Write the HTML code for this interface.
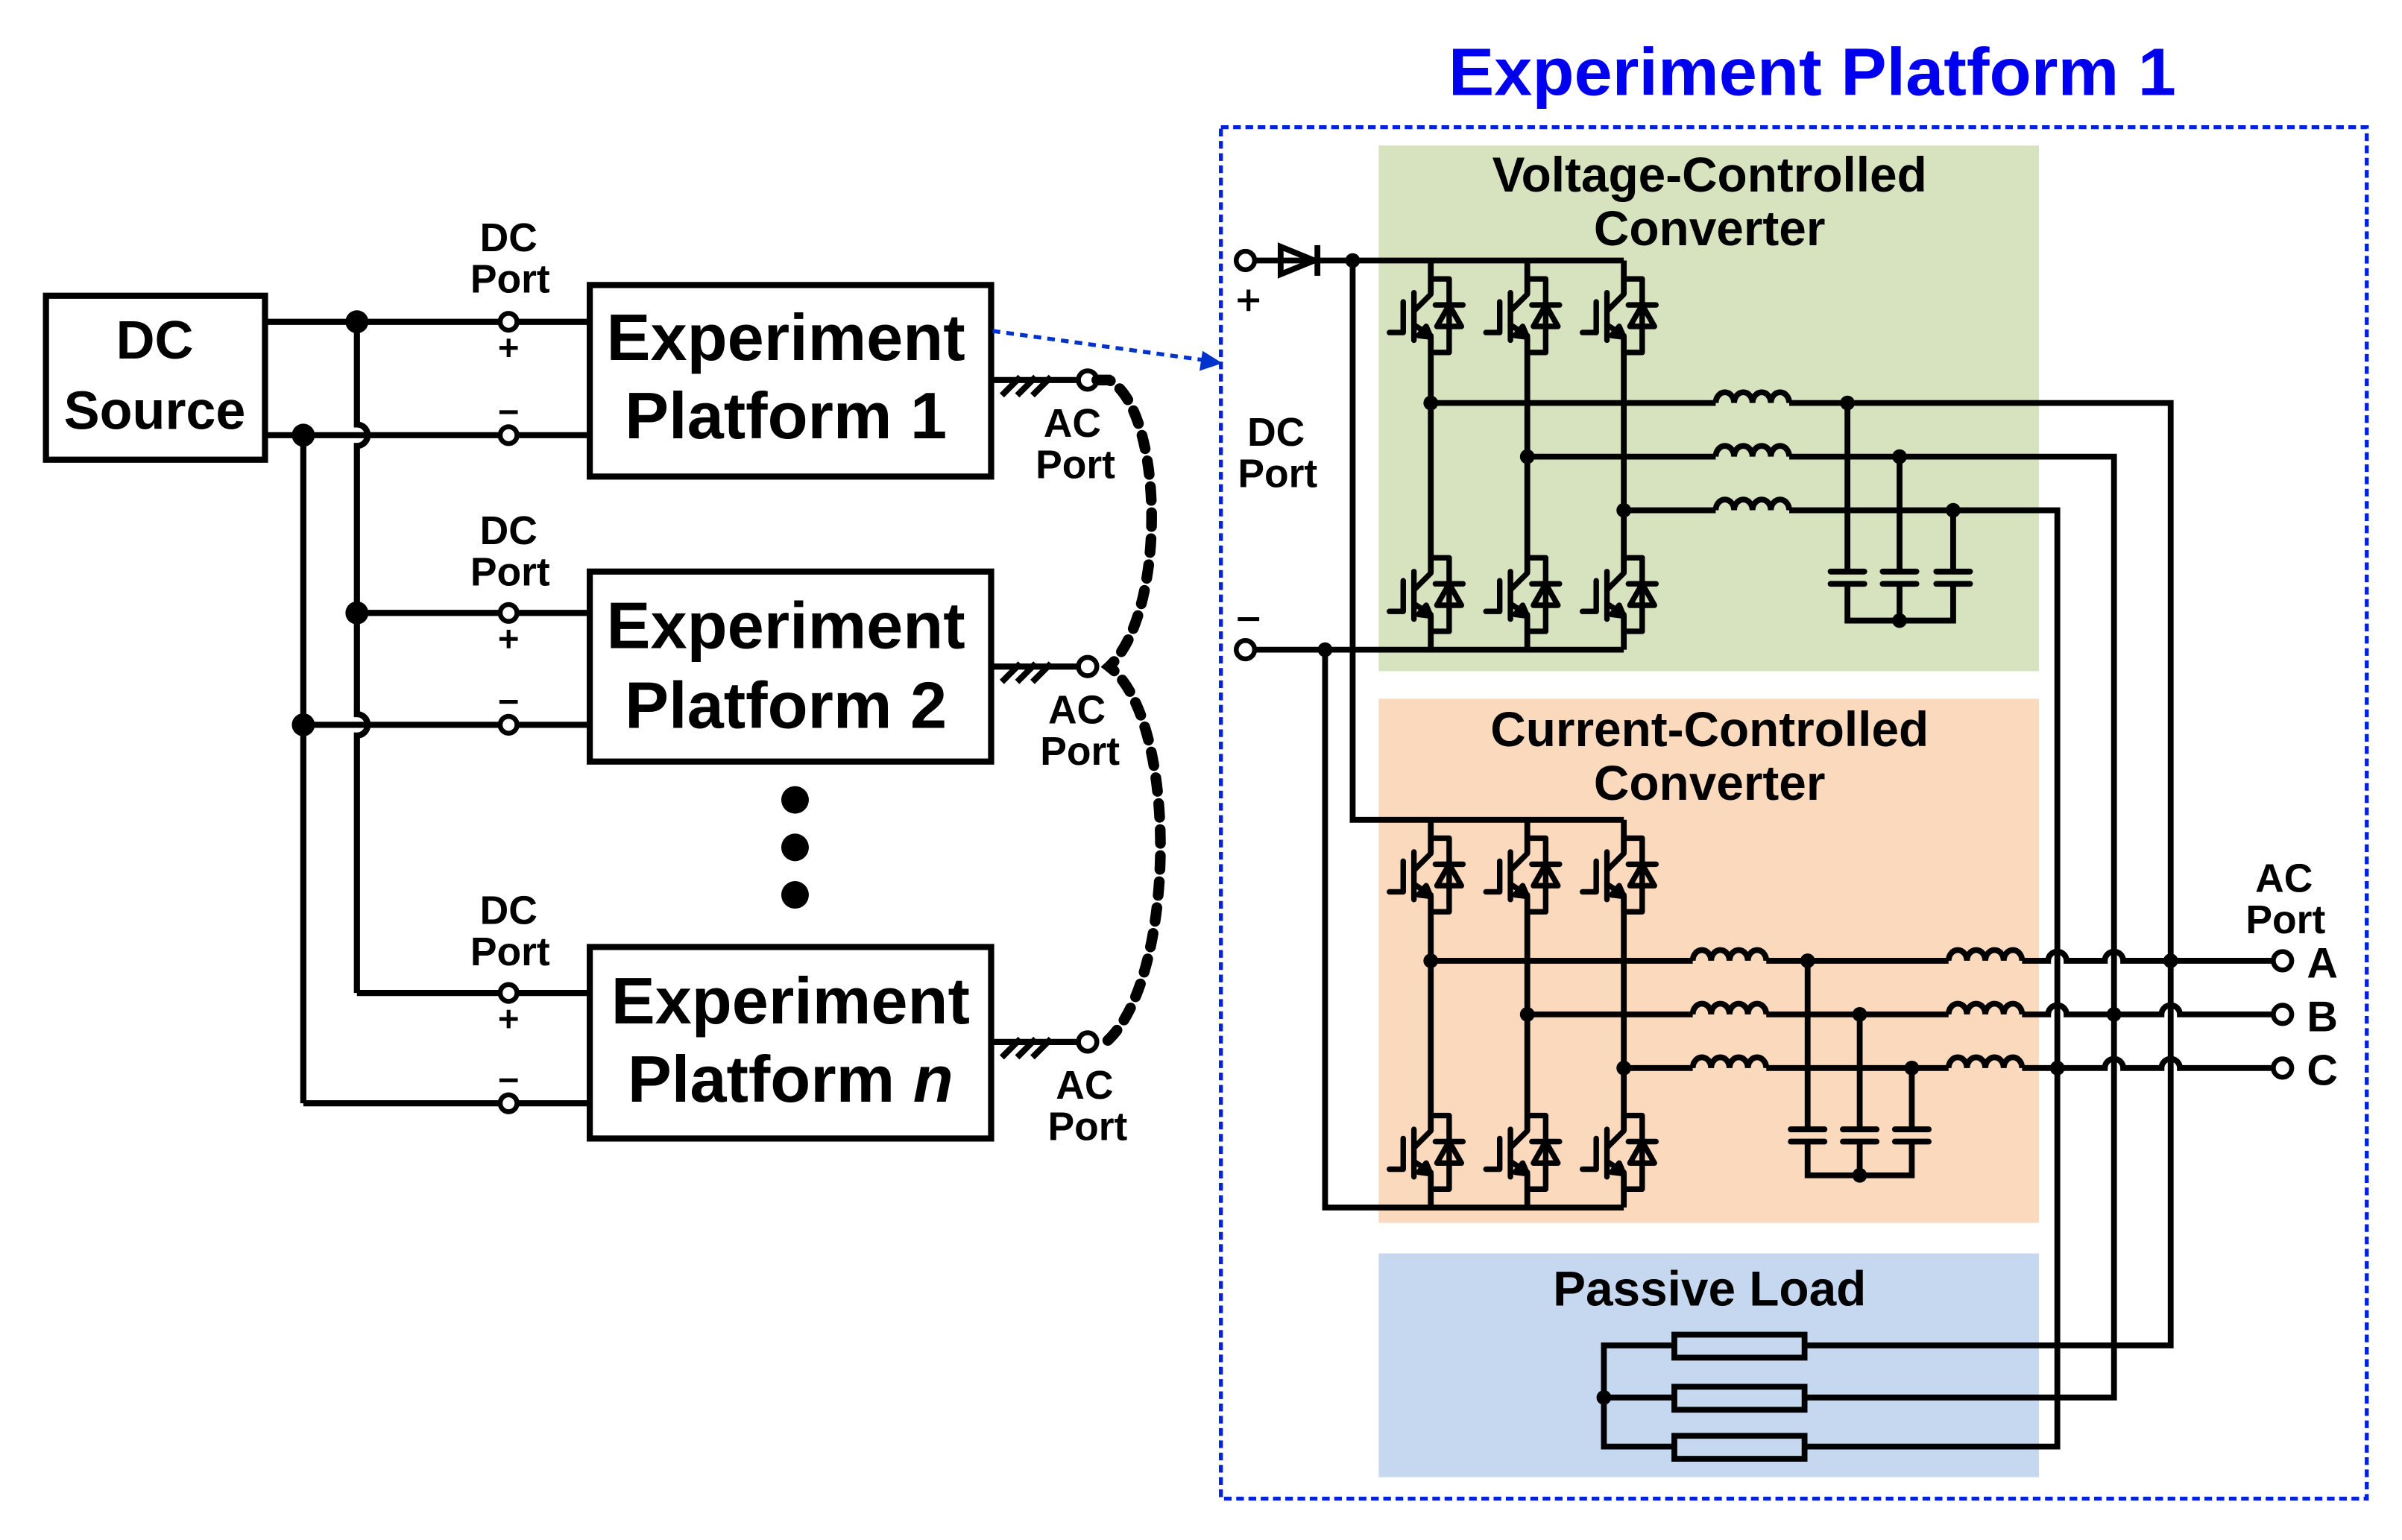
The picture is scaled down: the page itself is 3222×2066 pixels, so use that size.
<!DOCTYPE html>
<html><head><meta charset="utf-8"><style>
html,body{margin:0;padding:0;background:#fff;}
svg{display:block;}
text{font-family:"Liberation Sans",Arial,sans-serif;font-weight:bold;}
</style></head><body>
<svg width="3222" height="2066" viewBox="0 0 1568 1005" preserveAspectRatio="none" xmlns="http://www.w3.org/2000/svg">
<defs>
<g id="sw" fill="none" stroke="#000" stroke-width="3.6" stroke-linecap="round" stroke-linejoin="round">
  <path d="M0,0 H12 V48 H0"/>
  <path d="M3,17 H21"/>
  <path d="M12,17 L4,31 H20 Z"/>
  <path d="M0,0 V10 L-11,21"/>
  <path d="M-11,9 V40"/>
  <path d="M-18,15 V35 H-27"/>
  <path d="M-11,30 L0,37 V48"/>
  <path d="M0,38 L-8,37 L-3,31 Z" fill="#000"/>
</g>
<g id="ind" fill="none" stroke="#000" stroke-width="3.8">
  <path d="M0,0 a6,7 0 0 1 12,0 a6,7 0 0 1 12,0 a6,7 0 0 1 12,0 a6,7 0 0 1 12,0"/>
</g>
<g id="cap" fill="none" stroke="#000" stroke-width="3.8" stroke-linecap="round">
  <path d="M-11,0 H11 M-11,8 H11"/>
</g>
</defs>

<!-- ========== LEFT ========== -->
<g fill="none" stroke="#000" stroke-width="4">
  <rect x="30" y="193" width="143" height="107"/>
  <rect x="385" y="186" width="262" height="125"/>
  <rect x="385" y="373" width="262" height="124"/>
  <rect x="385" y="618" width="262" height="125"/>
  <path d="M173,210 H326 M338,210 H385"/>
  <path d="M173,284 H326 M338,284 H385"/>
  <path d="M233,400 H326 M338,400 H385"/>
  <path d="M198,473 H326 M338,473 H385"/>
  <path d="M233,648 H326 M338,648 H385"/>
  <path d="M198,720 H326 M338,720 H385"/>
  <path d="M233,210 V277 a7,7 0 0 1 0,14 V466 a7,7 0 0 1 0,14 V648"/>
  <path d="M198,284 V720"/>
  <path d="M647,248 H704 M647,435 H704 M647,680 H704"/>
  <path d="M654,258 l12,-12 M664,258 l12,-12 M674,258 l12,-12"/>
  <path d="M654,445 l12,-12 M664,445 l12,-12 M674,445 l12,-12"/>
  <path d="M654,690 l12,-12 M664,690 l12,-12 M674,690 l12,-12"/>
</g>
<g fill="#fff" stroke="#000" stroke-width="3.2">
  <circle cx="332" cy="210" r="5.5"/><circle cx="332" cy="284" r="5.5"/>
  <circle cx="332" cy="400" r="5.5"/><circle cx="332" cy="473" r="5.5"/>
  <circle cx="332" cy="648" r="5.5"/><circle cx="332" cy="720" r="5.5"/>
  <circle cx="710" cy="248" r="6"/><circle cx="710" cy="435" r="6"/><circle cx="710" cy="680" r="6"/>
</g>
<g fill="#000">
  <circle cx="233" cy="210" r="7.5"/><circle cx="198" cy="284" r="7.5"/>
  <circle cx="233" cy="400" r="7.5"/><circle cx="198" cy="473" r="7.5"/>
  <circle cx="519" cy="522" r="9"/><circle cx="519" cy="553" r="9"/><circle cx="519" cy="584" r="9"/>
</g>
<g stroke="#000" stroke-width="2.5">
  <path d="M326,227 H338 M332,221 V233"/><path d="M326,269 H338"/>
  <path d="M326,417 H338 M332,411 V423"/><path d="M326,458 H338"/>
  <path d="M326,665 H338 M332,659 V671"/><path d="M326,705 H338"/>
</g>
<path d="M716,248 H724 C760,268 762,400 724,435 C770,470 768,640 722,680" fill="none" stroke="#000" stroke-width="7" stroke-dasharray="9 8" stroke-linecap="round"/>
<path d="M648,216 L786,235" stroke="#0033cc" stroke-width="2.6" stroke-dasharray="5 4" fill="none"/>
<path d="M798,237 L783,242 L785,229 Z" fill="#0033cc"/>

<g fill="#000">
  <text x="101" y="234" font-size="35" text-anchor="middle">DC</text>
  <text x="101" y="280" font-size="35" text-anchor="middle">Source</text>
  <text x="513" y="235" font-size="43" text-anchor="middle">Experiment</text>
  <text x="513" y="286" font-size="43" text-anchor="middle">Platform 1</text>
  <text x="513" y="423" font-size="43" text-anchor="middle">Experiment</text>
  <text x="513" y="475" font-size="43" text-anchor="middle">Platform 2</text>
  <text x="516" y="668" font-size="43" text-anchor="middle">Experiment</text>
  <text x="516" y="719" font-size="43" text-anchor="middle">Platform <tspan font-style="italic">n</tspan></text>
  <g font-size="26" text-anchor="middle">
    <text x="332" y="164">DC</text><text x="333" y="191">Port</text>
    <text x="332" y="355">DC</text><text x="333" y="382">Port</text>
    <text x="332" y="603">DC</text><text x="333" y="630">Port</text>
    <text x="700" y="285">AC</text><text x="702" y="312">Port</text>
    <text x="703" y="472">AC</text><text x="705" y="499">Port</text>
    <text x="708" y="717">AC</text><text x="710" y="744">Port</text>
  </g>
</g>

<!-- ========== RIGHT ========== -->
<text x="1183" y="62" font-size="44" fill="#0000ee" text-anchor="middle" textLength="475" lengthAdjust="spacingAndGlyphs">Experiment Platform 1</text>
<rect x="797" y="83" width="748" height="895" fill="none" stroke="#0022dd" stroke-width="2.6" stroke-dasharray="5 3"/>
<rect x="900" y="95" width="431" height="343" fill="#d7e3bf"/>
<rect x="900" y="456" width="431" height="342" fill="#fad9bd"/>
<rect x="900" y="818" width="431" height="146" fill="#c6d8ef"/>
<g fill="#000" font-size="32" text-anchor="middle">
  <text x="1116" y="125">Voltage-Controlled</text>
  <text x="1116" y="160">Converter</text>
  <text x="1116" y="487">Current-Controlled</text>
  <text x="1116" y="522">Converter</text>
  <text x="1116" y="852">Passive Load</text>
  <text x="833" y="291" font-size="26">DC</text>
  <text x="834" y="318" font-size="26">Port</text>
  <text x="1491" y="582" font-size="26">AC</text>
  <text x="1492" y="609" font-size="26">Port</text>
  <text x="1516" y="638" font-size="28">A</text>
  <text x="1516" y="673" font-size="28">B</text>
  <text x="1516" y="708" font-size="28">C</text>
</g>
<g stroke="#000" stroke-width="2.5">
  <path d="M808,196 H822 M815,189 V203"/>
  <path d="M808,404 H822"/>
</g>

<g fill="none" stroke="#000" stroke-width="3.8">
  <path d="M818,170 H1060"/>
  <path d="M818,424 H1060"/>
  <path d="M883,170 V535 H1060"/>
  <path d="M865,424 V788 H1060"/>
  <path d="M934,170 V192 M934,220 V374 M934,402 V424"/>
  <path d="M997,170 V192 M997,220 V374 M997,402 V424"/>
  <path d="M1060,170 V192 M1060,220 V374 M1060,402 V424"/>
  <path d="M934,535 V557 M934,585 V738 M934,766 V788"/>
  <path d="M997,535 V557 M997,585 V738 M997,766 V788"/>
  <path d="M1060,535 V557 M1060,585 V738 M1060,766 V788"/>
  <path d="M934,263 H1120 M1168,263 H1417 V878 H1178"/>
  <path d="M997,298 H1120 M1168,298 H1380 V912 H1178"/>
  <path d="M1060,333 H1120 M1168,333 H1343 V944 H1178"/>
  <path d="M1206,263 V373 M1240,298 V373 M1275,333 V373"/>
  <path d="M1206,381 V405 H1275 V381 M1240,381 V405"/>
  <path d="M934,627 H1105 M1153,627 H1272 M1320,627 H1337 a6,6 0 0 1 12,0 H1374 a6,6 0 0 1 12,0 H1484"/>
  <path d="M997,662 H1105 M1153,662 H1272 M1320,662 H1337 a6,6 0 0 1 12,0 H1411 a6,6 0 0 1 12,0 H1484"/>
  <path d="M1060,697 H1105 M1153,697 H1272 M1320,697 H1374 a6,6 0 0 1 12,0 H1411 a6,6 0 0 1 12,0 H1484"/>
  <path d="M1180,627 V737 M1214,662 V737 M1248,697 V737"/>
  <path d="M1180,745 V767 H1248 V745 M1214,745 V767"/>
  <rect x="1093" y="871" width="85" height="15"/>
  <rect x="1093" y="905" width="85" height="15"/>
  <rect x="1093" y="937" width="85" height="15"/>
  <path d="M1093,878 H1047 V944 H1093 M1047,912 H1093"/>
  <path d="M836,161 L858,170 L836,179 Z"/>
  <path d="M860,160 V180"/>
</g>

<use href="#ind" x="1120" y="263"/><use href="#ind" x="1120" y="298"/><use href="#ind" x="1120" y="333"/>
<use href="#ind" x="1105" y="627"/><use href="#ind" x="1105" y="662"/><use href="#ind" x="1105" y="697"/>
<use href="#ind" x="1272" y="627"/><use href="#ind" x="1272" y="662"/><use href="#ind" x="1272" y="697"/>
<use href="#cap" x="1206" y="373"/><use href="#cap" x="1240" y="373"/><use href="#cap" x="1275" y="373"/>
<use href="#cap" x="1180" y="737"/><use href="#cap" x="1214" y="737"/><use href="#cap" x="1248" y="737"/>

<use href="#sw" x="934" y="182"/><use href="#sw" x="997" y="182"/><use href="#sw" x="1060" y="182"/>
<use href="#sw" x="934" y="364"/><use href="#sw" x="997" y="364"/><use href="#sw" x="1060" y="364"/>
<use href="#sw" x="934" y="547"/><use href="#sw" x="997" y="547"/><use href="#sw" x="1060" y="547"/>
<use href="#sw" x="934" y="728"/><use href="#sw" x="997" y="728"/><use href="#sw" x="1060" y="728"/>

<g fill="#fff" stroke="#000" stroke-width="3.2">
  <circle cx="813" cy="170" r="6"/><circle cx="813" cy="424" r="6"/>
  <circle cx="1490" cy="627" r="6"/><circle cx="1490" cy="662" r="6"/><circle cx="1490" cy="697" r="6"/>
</g>
<g fill="#000">
  <circle cx="883" cy="170" r="4.8"/><circle cx="865" cy="424" r="4.8"/>
  <circle cx="934" cy="263" r="4.8"/><circle cx="997" cy="298" r="4.8"/><circle cx="1060" cy="333" r="4.8"/>
  <circle cx="1206" cy="263" r="4.8"/><circle cx="1240" cy="298" r="4.8"/><circle cx="1275" cy="333" r="4.8"/>
  <circle cx="1240" cy="405" r="4.8"/>
  <circle cx="934" cy="627" r="4.8"/><circle cx="997" cy="662" r="4.8"/><circle cx="1060" cy="697" r="4.8"/>
  <circle cx="1180" cy="627" r="4.8"/><circle cx="1214" cy="662" r="4.8"/><circle cx="1248" cy="697" r="4.8"/>
  <circle cx="1214" cy="767" r="4.8"/>
  <circle cx="1417" cy="627" r="4.8"/><circle cx="1380" cy="662" r="4.8"/><circle cx="1343" cy="697" r="4.8"/>
  <circle cx="1047" cy="912" r="4.8"/>
</g>
</svg>
</body></html>
